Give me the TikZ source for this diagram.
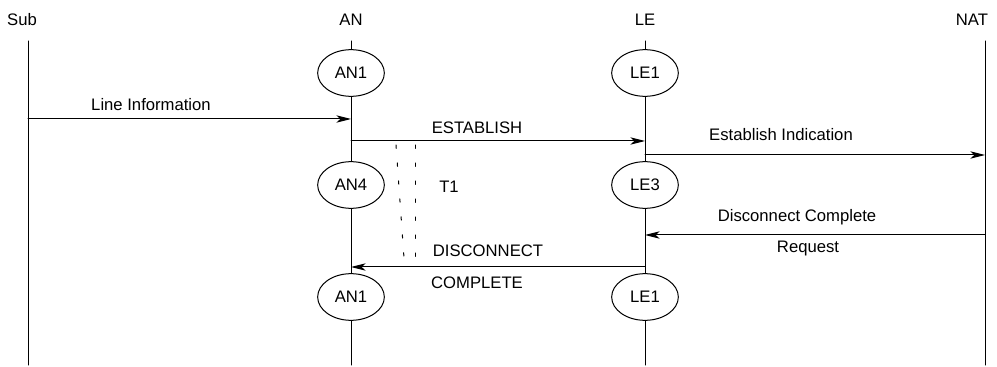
\documentclass[tikz,border=0pt]{standalone}
\usepackage{fontspec}
\setmainfont{Liberation Sans}
\usetikzlibrary{arrows.meta,shapes.geometric}

\begin{document}
\begin{tikzpicture}[x=0.75pt,y=-0.75pt,line cap=round,line join=round,>={Stealth[length=11pt,width=5.5pt,inset=3pt]},
    every node/.style={font=\fontsize{12.5}{14}\selectfont},
    state/.style={draw,ellipse,line width=0.75pt,inner sep=0pt,minimum width=50pt,minimum height=35pt},
    life/.style={line width=0.75pt},
    msg/.style={line width=0.75pt,->},
    timer/.style={line width=0.75pt,dash pattern=on 2.5pt off 11pt}]
                \useasboundingbox (0,0) rectangle (997,367);
                % entities
                \node (sub) at (22,20) {Sub};
                \node (an) at (351,20) {AN};
                \node (le) at (645,20) {LE};
                \node (nat) at (972,20) {NAT};
                \coordinate (subtop) at (28,41);
                \coordinate (subbot) at (28,365);
                \coordinate (antop) at (351,41);
                \coordinate (anbot) at (351,365);
                \coordinate (letop) at (645,41);
                \coordinate (lebot) at (645,365);
                \coordinate (nattop) at (985,41);
                \coordinate (natbot) at (985,365);
                % states
                \node[state] (an1) at (351,73) {AN1};
                \node[state] (an4) at (351,185) {AN4};
                \node[state] (an1b) at (351,297) {AN1};
                \node[state] (le1) at (645,73) {LE1};
                \node[state] (le3) at (645,185) {LE3};
                \node[state] (le1b) at (645,297) {LE1};
                % lifelines
                \draw [life] (subtop) -- (subbot);
                \draw [life] (antop) -- (an1) -- (an4) -- (an1b) -- (anbot);
                \draw [life] (letop) -- (le1) -- (le3) -- (le1b) -- (lebot);
                \draw [life] (nattop) -- (natbot);
                % message ends
                \coordinate (info-s) at (28,119);
                \coordinate (info-e) at (351,119);
                \coordinate (est-s) at (351,141);
                \coordinate (est-e) at (645,141);
                \coordinate (ind-s) at (645,155);
                \coordinate (ind-e) at (985,155);
                \coordinate (req-s) at (985,235);
                \coordinate (req-e) at (645,235);
                \coordinate (disc-s) at (645,267);
                \coordinate (disc-e) at (351,267);
                % messages
                \draw [msg] (info-s) -- (info-e);
                \draw [msg] (est-s) -- (est-e);
                \draw [msg] (ind-s) -- (ind-e);
                \draw [msg] (req-s) -- (req-e);
                \draw [msg] (disc-s) -- (disc-e);
                \node (infolbl) at (151,105) {Line Information};
                \node (estlbl) at (477,128) {ESTABLISH};
                \node (indlbl) at (781,135) {Establish Indication};
                \node (reqlbl1) at (797,217) {Disconnect Complete};
                \node (reqlbl2) at (808,248) {Request};
                \node (disclbl1) at (488,251) {DISCONNECT};
                \node (disclbl2) at (477,283) {COMPLETE};
                % timer T1
                \coordinate (t1a-s) at (396,145);
                \coordinate (t1a-e) at (404,258);
                \coordinate (t1b-s) at (415,145);
                \coordinate (t1b-e) at (415,258);
                \draw [timer] (t1a-s) -- (t1a-e);
                \draw [timer] (t1b-s) -- (t1b-e);
                \node (t1) at (449,187) {T1};
\end{tikzpicture}
\end{document}
